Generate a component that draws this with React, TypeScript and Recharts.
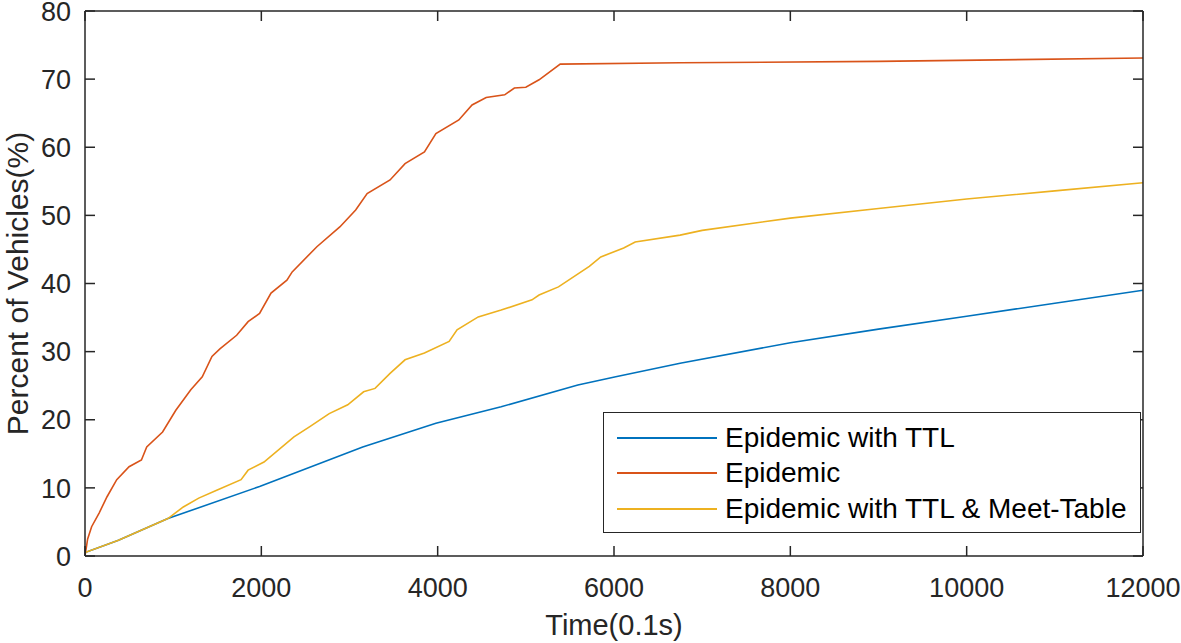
import { Legend, Line, LineChart, XAxis, YAxis } from "recharts";

const FONT = '"Liberation Sans", Arial, Helvetica, sans-serif';
const INK = "#262626";
const TICK_LEN = 10;

const xTicks = [0, 2000, 4000, 6000, 8000, 10000, 12000];
const yTicks = [0, 10, 20, 30, 40, 50, 60, 70, 80];

// Epidemic with TTL (blue)
const ttlX = [0, 380, 940, 1980, 3150, 3980, 4720, 5590, 6020, 6750, 8000, 9000, 10000, 11000, 12000];
const ttlY = [0.5, 2.3, 5.5, 10.2, 16.0, 19.5, 21.9, 25.1, 26.3, 28.3, 31.3, 33.3, 35.2, 37.1, 39.0];

// Epidemic (orange)
const epiX = [
  0, 30, 75, 160, 250, 360, 500, 640, 700, 880, 1030, 1200, 1330, 1440, 1530, 1720, 1850, 1980, 2110,
  2290, 2350, 2630, 2890, 3070, 3200, 3460, 3630, 3850, 3980, 4240, 4390, 4550, 4760, 4870, 5000,
  5150, 5390, 6750, 9000, 12000,
];
const epiY = [
  0, 2.5, 4.3, 6.3, 8.7, 11.2, 13.1, 14.1, 16.0, 18.2, 21.4, 24.4, 26.3, 29.3, 30.4, 32.4, 34.4, 35.6,
  38.6, 40.5, 41.7, 45.4, 48.3, 50.8, 53.2, 55.2, 57.6, 59.3, 62.0, 64.0, 66.2, 67.3, 67.7, 68.7, 68.8,
  69.9, 72.2, 72.4, 72.6, 73.1,
];

// Epidemic with TTL & Meet-Table (yellow)
const meetX = [
  0, 380, 940, 1115, 1290, 1500, 1770, 1850, 2030, 2370, 2550, 2770, 2980, 3160, 3290, 3460, 3630,
  3850, 4130, 4220, 4460, 4720, 5070, 5150, 5370, 5720, 5850, 6110, 6240, 6750, 7000, 8000, 9000,
  10000, 11000, 12000,
];
const meetY = [
  0.5, 2.3, 5.5, 7.2, 8.5, 9.7, 11.2, 12.6, 13.8, 17.5, 19.0, 20.9, 22.2, 24.1, 24.6, 26.8, 28.8, 29.8,
  31.5, 33.2, 35.1, 36.1, 37.6, 38.3, 39.5, 42.5, 43.9, 45.2, 46.1, 47.1, 47.8, 49.6, 51.0, 52.4, 53.6,
  54.8,
];

const zip = (xs: number[], ys: number[]) => xs.map((x, i) => ({ x, y: ys[i] }));

// blue is bound to the top/right box axes (same domains) so those axes are live too
const series = [
  { name: "Epidemic with TTL", color: "#0072BD", data: zip(ttlX, ttlY), xId: "top", yId: "right" },
  { name: "Epidemic", color: "#D95319", data: zip(epiX, epiY), xId: "bottom", yId: "left" },
  { name: "Epidemic with TTL & Meet-Table", color: "#EDB120", data: zip(meetX, meetY), xId: "bottom", yId: "left" },
];

function LegendBox() {
  return (
    <div
      style={{
        boxSizing: "border-box",
        width: 538,
        height: 121,
        border: `1.5px solid ${INK}`,
        background: "#fff",
        padding: "7px 0 0 13px",
        fontFamily: FONT,
        fontSize: 28,
        color: "#000",
      }}
    >
      {series.map((s) => (
        <div key={s.name} style={{ display: "flex", alignItems: "center", height: 35.5 }}>
          <span style={{ width: 100, height: 0, borderTop: `2px solid ${s.color}`, marginRight: 8 }} />
          <span>{s.name}</span>
        </div>
      ))}
    </div>
  );
}

// inward tick marks (MATLAB style) + optional label, drawn at the point the axis hands us
function makeTick(side: "bottom" | "top" | "left" | "right", withLabel: boolean) {
  return (p: any) => {
    const { x, y, payload } = p;
    let x2 = x;
    let y2 = y;
    if (side === "bottom") y2 = y - TICK_LEN;
    if (side === "top") y2 = y + TICK_LEN;
    if (side === "left") x2 = x + TICK_LEN;
    if (side === "right") x2 = x - TICK_LEN;
    return (
      <g>
        <line x1={x} y1={y} x2={x2} y2={y2} stroke={INK} strokeWidth={1.5} />
        {withLabel && side === "bottom" && (
          <text x={x} y={y + 41} textAnchor="middle" fontSize={27} fill={INK} fontFamily={FONT}>
            {payload.value}
          </text>
        )}
        {withLabel && side === "left" && (
          <text x={x - 14} y={y} dy="0.36em" textAnchor="end" fontSize={27} fill={INK} fontFamily={FONT}>
            {payload.value}
          </text>
        )}
      </g>
    );
  };
}

const axisLine = { stroke: INK, strokeWidth: 1.5 };

export default function App() {
  return (
    <div style={{ position: "absolute", left: 0, top: 0, background: "#fff" }}>
      <LineChart width={1181} height={643} margin={{ top: 10, right: 37, bottom: 0, left: 0 }}>
        <XAxis
          xAxisId="bottom"
          dataKey="x"
          type="number"
          domain={[0, 12000]}
          ticks={xTicks}
          interval={0}
          allowDataOverflow
          height={87}
          tickSize={0}
          tickMargin={0}
          tickLine={false}
          tick={makeTick("bottom", true)}
          axisLine={axisLine}
          label={{ value: "Time(0.1s)", position: "insideBottom", offset: 8, fontSize: 29, fill: INK, fontFamily: FONT }}
        />
        <XAxis
          xAxisId="top"
          orientation="top"
          dataKey="x"
          type="number"
          domain={[0, 12000]}
          ticks={xTicks}
          interval={0}
          allowDataOverflow
          height={1}
          tickSize={0}
          tickMargin={0}
          tickLine={false}
          tick={makeTick("top", false)}
          axisLine={axisLine}
        />
        <YAxis
          yAxisId="left"
          type="number"
          domain={[0, 80]}
          ticks={yTicks}
          interval={0}
          allowDataOverflow
          width={85}
          tickSize={0}
          tickMargin={0}
          tickLine={false}
          tick={makeTick("left", true)}
          axisLine={axisLine}
          label={{
            value: "Percent of Vehicles(%)",
            angle: -90,
            position: "insideLeft",
            offset: 17,
            fontSize: 30,
            fill: INK,
            fontFamily: FONT,
            style: { textAnchor: "middle" },
          }}
        />
        <YAxis
          yAxisId="right"
          orientation="right"
          type="number"
          domain={[0, 80]}
          ticks={yTicks}
          interval={0}
          allowDataOverflow
          width={1}
          tickSize={0}
          tickMargin={0}
          tickLine={false}
          tick={makeTick("right", false)}
          axisLine={axisLine}
        />
        <Legend
          verticalAlign="middle"
          align="center"
          content={<LegendBox />}
          wrapperStyle={{ position: "absolute", left: 603, top: 412, width: 538, height: 121 }}
        />
        {series.map((s) => (
          <Line
            key={s.name}
            xAxisId={s.xId}
            yAxisId={s.yId}
            data={s.data}
            dataKey="y"
            name={s.name}
            type="linear"
            stroke={s.color}
            strokeWidth={1.6}
            dot={false}
            isAnimationActive={false}
          />
        ))}
      </LineChart>
    </div>
  );
}
